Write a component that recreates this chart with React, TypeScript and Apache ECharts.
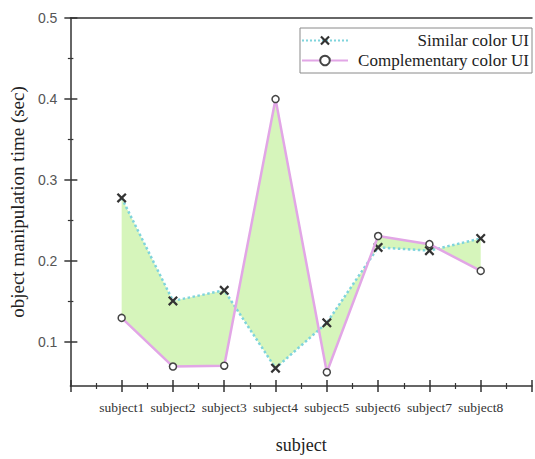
import React, { useEffect, useRef } from "react";
import * as echarts from "echarts";

const categories = ["subject1", "subject2", "subject3", "subject4", "subject5", "subject6", "subject7", "subject8"];
const similarValues = [0.278, 0.151, 0.164, 0.068, 0.124, 0.217, 0.213, 0.228];
const complementaryValues = [0.13, 0.07, 0.071, 0.4, 0.063, 0.231, 0.221, 0.188];
const yMajorTicks = [0.1, 0.2, 0.3, 0.4, 0.5];
const yMinorTicks = [0.15, 0.25, 0.35, 0.45];
const seriesNames = ["Similar color UI", "Complementary color UI"];

const X_MARK = "path://M0,1.6L1.6,0L5,3.4L8.4,0L10,1.6L6.6,5L10,8.4L8.4,10L5,6.6L1.6,10L0,8.4L3.4,5Z";
const SERIF = "Liberation Serif";
const SANS = "Liberation Sans";
const AXIS_COLOR = "#333";

export default function App() {
  const ref = useRef<HTMLDivElement>(null);

  useEffect(() => {
    if (!ref.current) return;
    const chart = echarts.init(ref.current, undefined, { renderer: "svg" });

    const simData = similarValues.map((v, i) => [i + 1, v]);
    const compData = complementaryValues.map((v, i) => [i + 1, v]);

    const xBase = { type: "value", min: 0, max: 9, interval: 1, gridIndex: 0, splitLine: { show: false } };
    const yBase = { type: "value", min: 0.046, max: 0.5, gridIndex: 0, splitLine: { show: false } };

    const option: any = {
      animation: false,
      backgroundColor: "#fff",
      grid: { left: 70, top: 18, right: -6, bottom: 59.5, containLabel: false },
      legend: {
        data: seriesNames,
        orient: "vertical",
        left: 300,
        top: 28,
        padding: [4, 3, 4, 1],
        itemGap: 3,
        itemWidth: 46,
        itemHeight: 12,
        borderColor: "#8a8a8a",
        borderWidth: 1,
        backgroundColor: "#fff",
        formatter: (n: string) => `{r|${n}}`,
        textStyle: {
          rich: {
            r: { width: 176, align: "right", fontSize: 17, lineHeight: 19, fontFamily: SERIF, color: "#222" },
          },
        },
      },
      xAxis: [
        {
          ...xBase,
          position: "bottom",
          name: "subject",
          nameLocation: "middle",
          nameGap: 50,
          nameTextStyle: { fontFamily: SERIF, fontSize: 18, color: "#222" },
          axisLine: { show: true, lineStyle: { color: AXIS_COLOR, width: 1.5 } },
          axisTick: { show: true, inside: false, length: 6, lineStyle: { color: AXIS_COLOR, width: 1.5 } },
          minorTick: { show: true, splitNumber: 2, length: 3, lineStyle: { color: AXIS_COLOR, width: 1.2 } },
          axisLabel: {
            margin: 14,
            fontFamily: SERIF,
            fontSize: 13.5,
            color: "#333",
            formatter: (v: number) => categories[Math.round(v) - 1] ?? "",
          },
        },
        {
          ...xBase,
          position: "bottom",
          axisLine: { show: false },
          axisTick: { show: true, inside: true, length: 6, lineStyle: { color: AXIS_COLOR, width: 1.5 } },
          minorTick: { show: true, splitNumber: 2, length: 3, lineStyle: { color: AXIS_COLOR, width: 1.2 } },
          axisLabel: { show: false },
        },
        {
          ...xBase,
          position: "top",
          axisLine: { show: true, lineStyle: { color: AXIS_COLOR, width: 1.5 } },
          axisTick: { show: false },
          axisLabel: { show: false },
        },
      ],
      yAxis: [
        {
          ...yBase,
          position: "left",
          name: "object manipulation time (sec)",
          nameLocation: "middle",
          nameGap: 38,
          nameTextStyle: { fontFamily: SERIF, fontSize: 19, color: "#222" },
          axisLine: { show: true, lineStyle: { color: AXIS_COLOR, width: 1.5 } },
          axisTick: { show: true, inside: false, length: 6, customValues: yMajorTicks, lineStyle: { color: AXIS_COLOR, width: 1.5 } },
          axisLabel: {
            customValues: yMajorTicks,
            margin: 13,
            fontFamily: SANS,
            fontSize: 14,
            color: "#555",
            formatter: (v: number) => v.toFixed(1),
          },
        },
        {
          ...yBase,
          position: "left",
          axisLine: { show: false },
          axisTick: { show: true, inside: true, length: 7, customValues: yMajorTicks, lineStyle: { color: AXIS_COLOR, width: 1.5 } },
          axisLabel: { show: false },
        },
        {
          ...yBase,
          position: "left",
          axisLine: { show: false },
          axisTick: { show: true, inside: false, length: 2.5, customValues: yMinorTicks, lineStyle: { color: AXIS_COLOR, width: 1.2 } },
          axisLabel: { show: false },
        },
        {
          ...yBase,
          position: "left",
          axisLine: { show: false },
          axisTick: { show: true, inside: true, length: 3, customValues: yMinorTicks, lineStyle: { color: AXIS_COLOR, width: 1.2 } },
          axisLabel: { show: false },
        },
      ],
      series: [
        {
          type: "custom",
          name: "fill",
          xAxisIndex: 0,
          yAxisIndex: 0,
          z: 1,
          silent: true,
          data: [[0, 0]],
          renderItem: (_params: any, api: any) => {
            const pts = [
              ...simData.map((d) => api.coord(d)),
              ...compData.slice().reverse().map((d) => api.coord(d)),
            ];
            return { type: "polygon", shape: { points: pts }, style: { fill: "#d6f5bb", stroke: "none" } };
          },
        },
        {
          type: "line",
          name: seriesNames[0],
          xAxisIndex: 0,
          yAxisIndex: 0,
          z: 3,
          data: simData,
          symbol: X_MARK,
          symbolSize: 10,
          showSymbol: true,
          lineStyle: { color: "#7fd4dc", width: 2.5, type: "dotted" },
          itemStyle: { color: "#333", borderWidth: 0 },
        },
        {
          type: "line",
          name: seriesNames[1],
          xAxisIndex: 0,
          yAxisIndex: 0,
          z: 4,
          data: compData,
          symbol: "circle",
          symbolSize: 7,
          showSymbol: true,
          lineStyle: { color: "#e2a6e6", width: 2.5, type: "solid" },
          itemStyle: { color: "#fff", borderColor: "#444", borderWidth: 1.5 },
        },
      ],
    };

    chart.setOption(option);
    return () => chart.dispose();
  }, []);

  return <div ref={ref} style={{ position: "fixed", left: 0, top: 0, width: 535, height: 459 }} />;
}
